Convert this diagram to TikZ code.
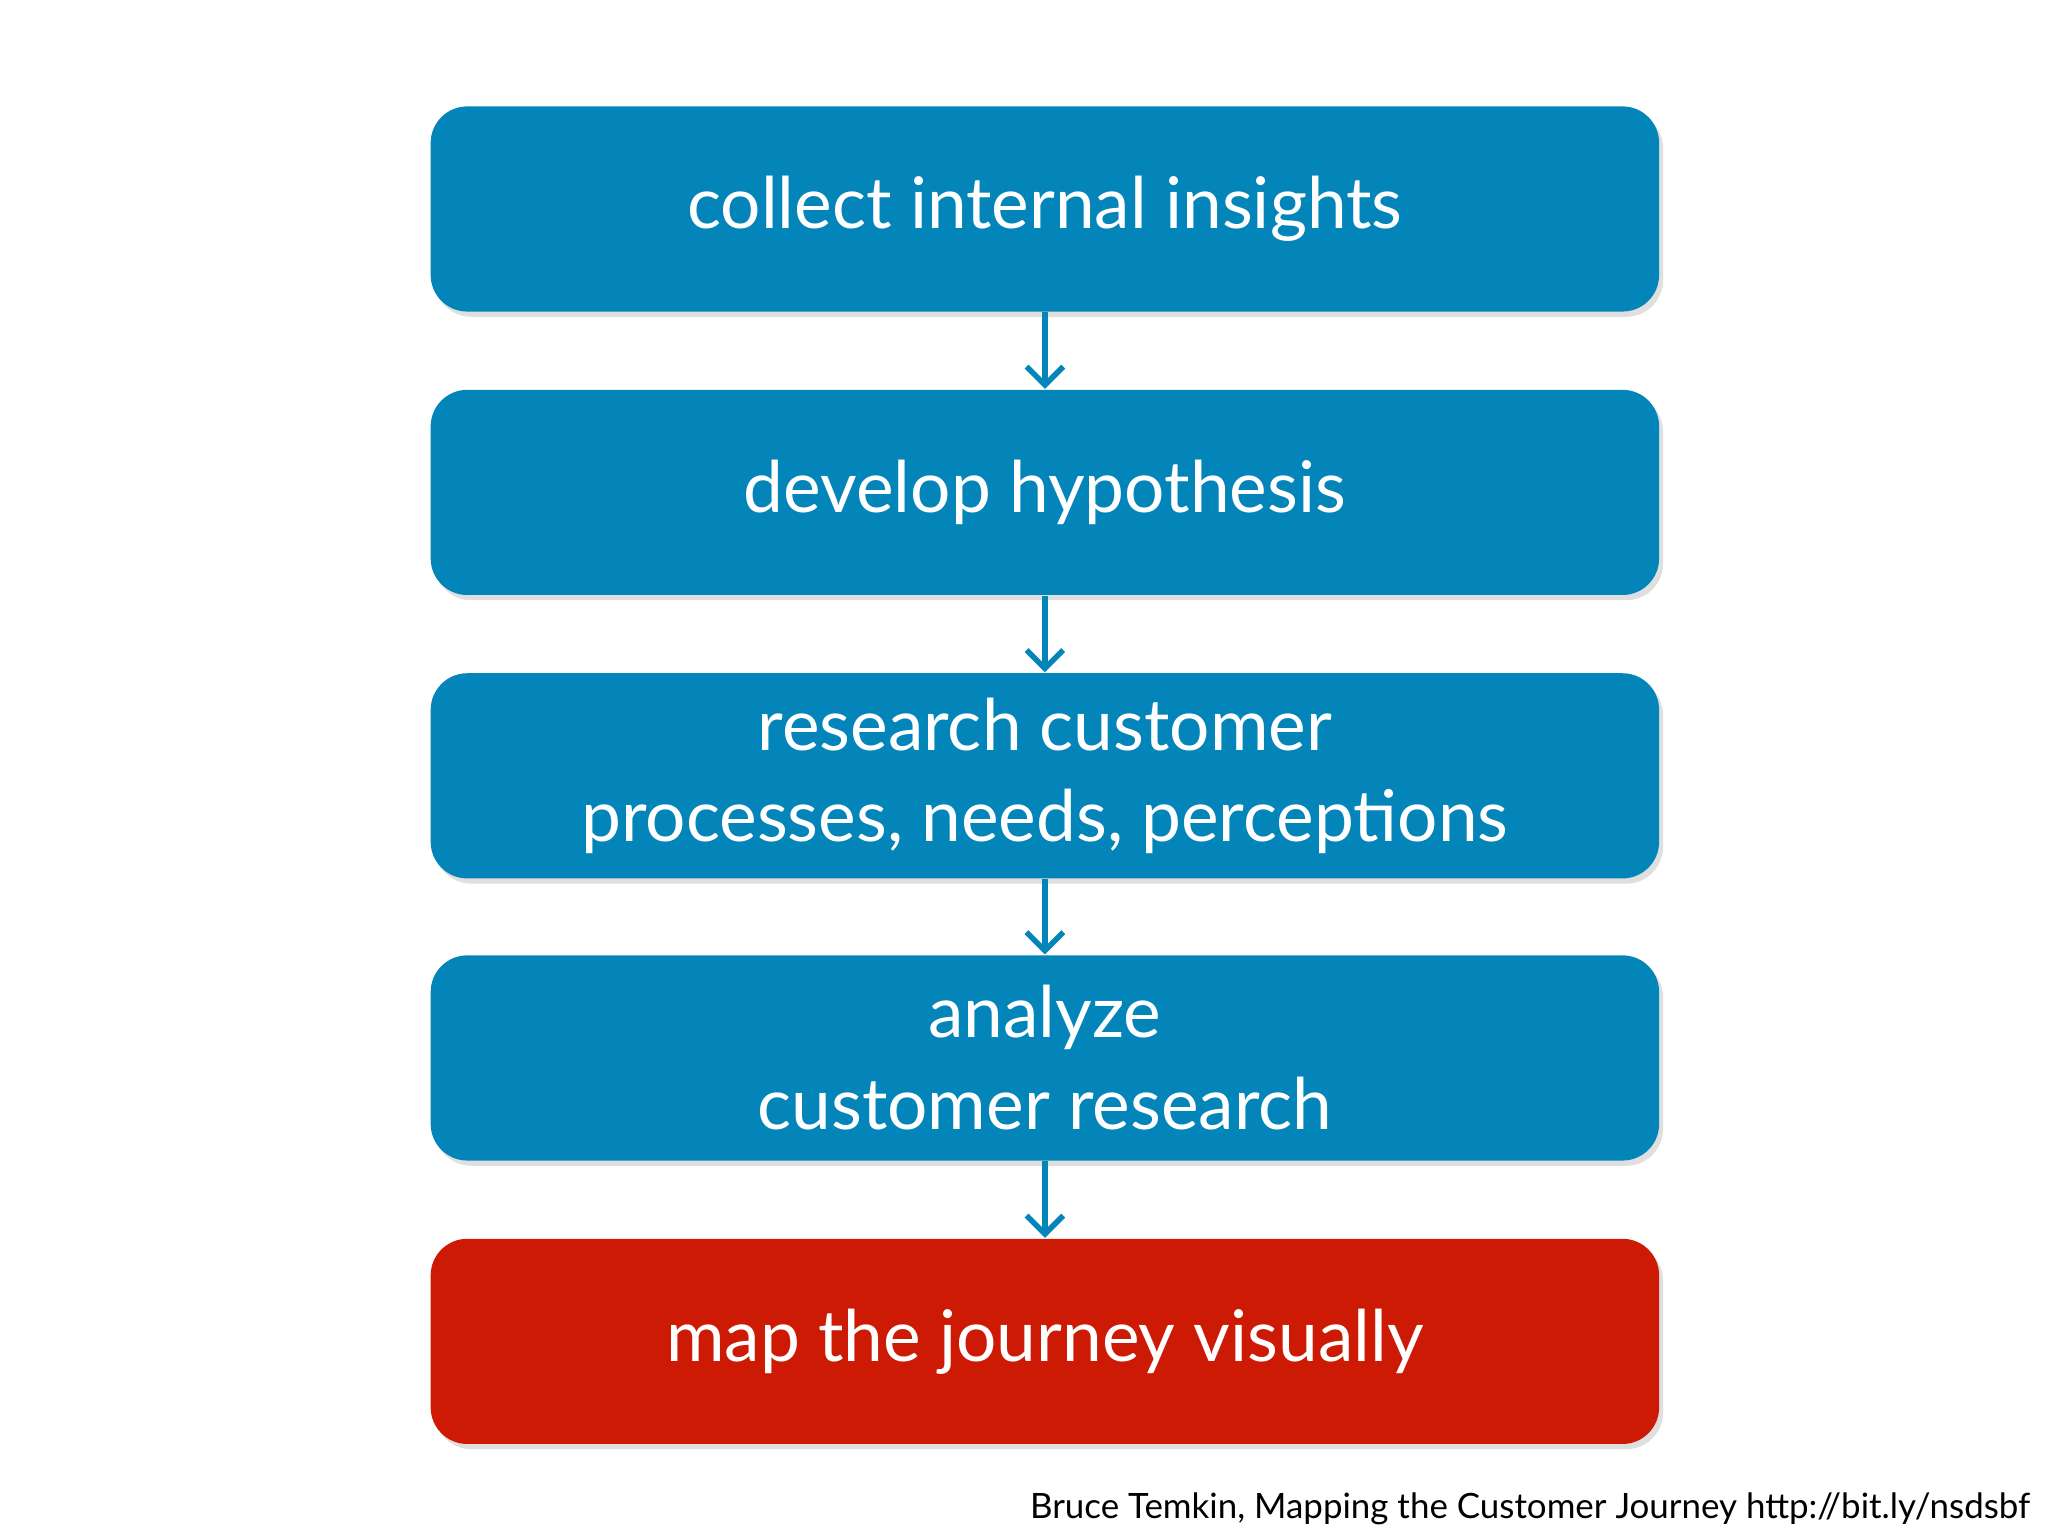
\documentclass[tikz,border=0pt]{standalone}
\usepackage{fontspec}
\setmainfont{Lato}
\usetikzlibrary{arrows.meta,shadows}
\definecolor{bx}{HTML}{0385BA}
\definecolor{rd}{HTML}{CC1A04}
\begin{document}
\begin{tikzpicture}[x=0.01cm,y=-0.01cm,
 box/.style={rounded corners=0.28cm,minimum width=9.4cm,minimum height=1.57cm,fill=bx,text=white,
   font=\fontsize{15.5pt}{20pt}\selectfont,align=center,inner sep=0pt,drop shadow={opacity=0.25,shadow xshift=0.03cm,shadow yshift=-0.04cm}},
 arr/.style={draw=bx,line width=1.2pt,-{Straight Barb[length=4pt,width=8pt]}}]
\useasboundingbox (0,0) rectangle (1568,1176);
\node[box] (a) at (800,160) {collect internal insights};
\node[box] (b) at (800,377) {develop hypothesis};
\node[box] (c) at (800,594) {research customer\\processes, needs, perceptions};
\node[box] (d) at (800,810) {analyze\\customer research};
\node[box,fill=rd] (e) at (800,1027) {map the journey visually};
\foreach \p/\q in {a/b,b/c,c/d,d/e} \draw[arr] (\p.south) -- (\q.north);
\node[anchor=east,font=\fontsize{7.6pt}{9pt}\selectfont,inner sep=0pt] (f) at (1555,1155) {Bruce Temkin, Mapping the Customer Journey http://bit.ly/nsdsbf};
\end{tikzpicture}
\end{document}
